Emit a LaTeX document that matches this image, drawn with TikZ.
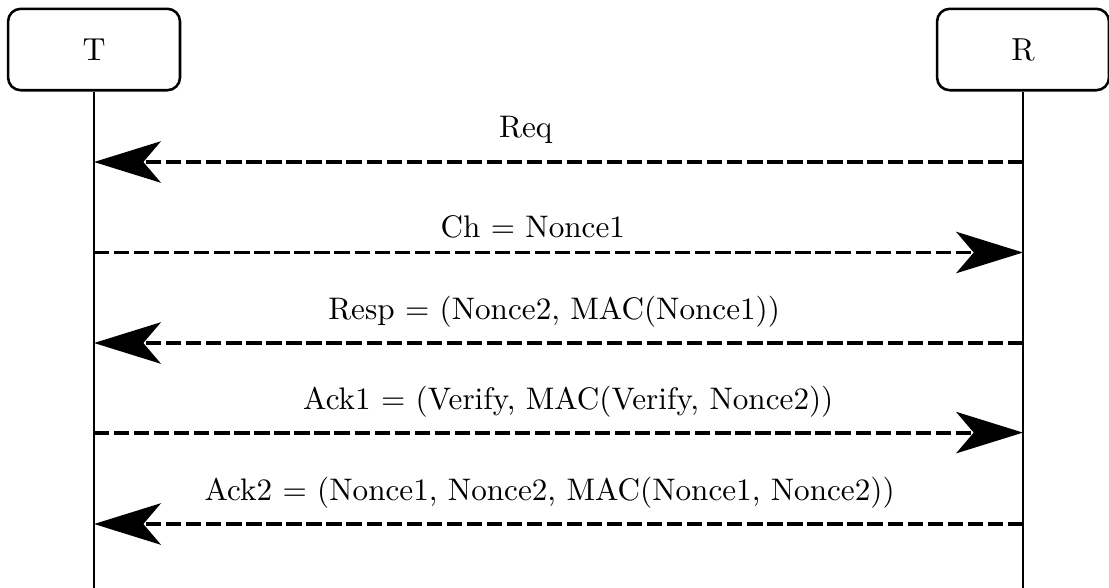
\documentclass[tikz,border=0pt]{standalone}
\usepackage{amsmath}
\usetikzlibrary{positioning,arrows.meta}

\begin{document}
\begin{tikzpicture}[
    party/.style={draw,thick,rounded corners=4pt,minimum width=1.9cm,minimum height=0.9cm},
    life/.style={semithick},
    msg/.style={very thick,dash pattern=on 4.8pt off 1.5pt,-{Stealth[length=21pt,width=13pt,inset=5.5pt]}},
    lbl/.style={midway,above,scale=0.98}]
    \useasboundingbox (0,0) rectangle (12.254,-6.497);
    % the two parties and their lifelines
    \node[party] (T) at (1.039,-0.547) {T};
    \node[party] (R) at (11.304,-0.547) {R};
    \coordinate (Tend) at (1.039,-6.497);
    \coordinate (Rend) at (11.304,-6.497);
    \draw[life] (T) -- (Tend);
    \draw[life] (R) -- (Rend);
    % end points of the messages on both lifelines
    \foreach \i/\y in {1/1.79,2/2.79,3/3.79,4/4.78,5/5.79}{
        \coordinate (t\i) at (T |- 0,-\y);
        \coordinate (r\i) at (R |- 0,-\y);
    }
    % messages
    \draw[msg] (r1) -- (t1) node[lbl,xshift=-0.37cm,yshift=2pt] {Req};
    \draw[msg] (t2) -- (r2) node[lbl,xshift=-0.29cm,yshift=0.7pt] {Ch $=$ Nonce1};
    \draw[msg] (r3) -- (t3) node[lbl,xshift=-0.05cm,yshift=1.2pt] {Resp $=$ (Nonce2, MAC(Nonce1))};
    \draw[msg] (t4) -- (r4) node[lbl,xshift=0.11cm,yshift=1pt] {Ack1 $=$ (Verify, MAC(Verify, Nonce2))};
    \draw[msg] (r5) -- (t5) node[lbl,xshift=-0.1cm,yshift=1pt] {Ack2 $=$ (Nonce1, Nonce2, MAC(Nonce1, Nonce2))};
\end{tikzpicture}
\end{document}
